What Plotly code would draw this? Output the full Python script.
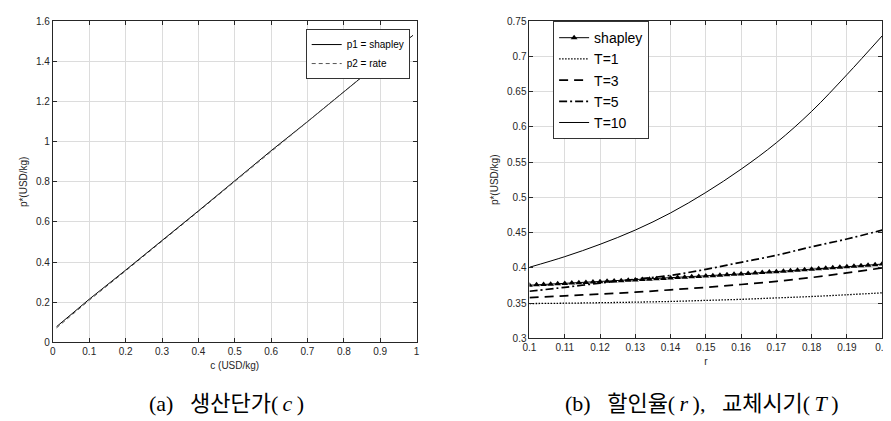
import plotly.graph_objects as go

# ---- data (a) ----
c_vals = [0.01, 0.1, 0.2, 0.3, 0.4, 0.5, 0.6, 0.7, 0.8, 0.9, 0.99]
p1_shapley = [0.078, 0.215, 0.36, 0.506, 0.655, 0.805, 0.955, 1.10, 1.25, 1.397, 1.53]
p2_rate = [0.072, 0.21, 0.356, 0.503, 0.652, 0.802, 0.952, 1.098, 1.248, 1.396, 1.53]

# ---- data (b) ----
r_vals = [0.10, 0.11, 0.12, 0.13, 0.14, 0.15, 0.16, 0.17, 0.18, 0.19, 0.20]
T1 = [0.3495, 0.3500, 0.3507, 0.3515, 0.3525, 0.3540, 0.3555, 0.3575, 0.3595, 0.3620, 0.3647]
T3 = [0.3580, 0.3605, 0.3630, 0.3656, 0.3690, 0.3725, 0.3765, 0.3810, 0.3865, 0.3930, 0.4000]
T5 = [0.3670, 0.3725, 0.3785, 0.3840, 0.3895, 0.3980, 0.4080, 0.4180, 0.4300, 0.4410, 0.4537]
T10 = [0.4010, 0.4160, 0.4335, 0.4537, 0.4780, 0.5070, 0.5400, 0.5775, 0.6220, 0.6740, 0.7290]

r_fine = [0.100, 0.102, 0.104, 0.106, 0.108, 0.110, 0.112, 0.114, 0.116, 0.118,
          0.120, 0.122, 0.124, 0.126, 0.128, 0.130, 0.132, 0.134, 0.136, 0.138,
          0.140, 0.142, 0.144, 0.146, 0.148, 0.150, 0.152, 0.154, 0.156, 0.158,
          0.160, 0.162, 0.164, 0.166, 0.168, 0.170, 0.172, 0.174, 0.176, 0.178,
          0.180, 0.182, 0.184, 0.186, 0.188, 0.190, 0.192, 0.194, 0.196, 0.198,
          0.200]
shapley_b = [0.3755, 0.3760, 0.3765, 0.3770, 0.3775, 0.3780, 0.3785, 0.3790, 0.3795, 0.3800,
             0.3805, 0.3810, 0.3815, 0.3820, 0.3825, 0.3830, 0.3835, 0.3841, 0.3846, 0.3852,
             0.3857, 0.3863, 0.3868, 0.3874, 0.3879, 0.3885, 0.3891, 0.3897, 0.3903, 0.3909,
             0.3915, 0.3921, 0.3928, 0.3934, 0.3941, 0.3947, 0.3954, 0.3960, 0.3967, 0.3973,
             0.3980, 0.3987, 0.3995, 0.4002, 0.4010, 0.4017, 0.4025, 0.4032, 0.4040, 0.4047,
             0.4055]

x_ticks_a = [0, 0.1, 0.2, 0.3, 0.4, 0.5, 0.6, 0.7, 0.8, 0.9, 1]
x_labels_a = ["0", "0.1", "0.2", "0.3", "0.4", "0.5", "0.6", "0.7", "0.8", "0.9", "1"]
y_ticks_a = [0, 0.2, 0.4, 0.6, 0.8, 1, 1.2, 1.4, 1.6]
y_labels_a = ["0", "0.2", "0.4", "0.6", "0.8", "1", "1.2", "1.4", "1.6"]
x_ticks_b = [0.1, 0.11, 0.12, 0.13, 0.14, 0.15, 0.16, 0.17, 0.18, 0.19, 0.2]
x_labels_b = ["0.1", "0.11", "0.12", "0.13", "0.14", "0.15", "0.16", "0.17", "0.18", "0.19", "0.2"]
y_ticks_b = [0.3, 0.35, 0.4, 0.45, 0.5, 0.55, 0.6, 0.65, 0.7, 0.75]
y_labels_b = ["0.3", "0.35", "0.4", "0.45", "0.5", "0.55", "0.6", "0.65", "0.7", "0.75"]

W, H = 891, 421


def fx(px):
    return min(max(px / W, 0.0), 1.0)


def fy(py):
    return min(max(1 - py / H, 0.0), 1.0)


FONT = "Liberation Sans, Arial, sans-serif"
TICKC = "#262626"

fig = go.Figure()

# (a)
fig.add_trace(go.Scatter(x=c_vals, y=p1_shapley, mode="lines", name="p1 = shapley",
                         line=dict(color="black", width=1), xaxis="x", yaxis="y",
                         legend="legend"))
fig.add_trace(go.Scatter(x=c_vals, y=p2_rate, mode="lines", name="p2 = rate",
                         line=dict(color="#555555", width=1, dash="4px,3px"), xaxis="x", yaxis="y",
                         legend="legend"))

# (b)
fig.add_trace(go.Scatter(x=r_fine, y=shapley_b, mode="lines+markers", name="shapley",
                         line=dict(color="black", width=1),
                         marker=dict(symbol="triangle-up", size=6, color="black"),
                         xaxis="x2", yaxis="y2", legend="legend2"))
fig.add_trace(go.Scatter(x=r_vals, y=T1, mode="lines", name="T=1", line_shape="spline",
                         line=dict(color="black", width=1.3, dash="1.5px,1.5px"),
                         xaxis="x2", yaxis="y2", legend="legend2"))
fig.add_trace(go.Scatter(x=r_vals, y=T3, mode="lines", name="T=3", line_shape="spline",
                         line=dict(color="black", width=1.7, dash="9px,6px"),
                         xaxis="x2", yaxis="y2", legend="legend2"))
fig.add_trace(go.Scatter(x=r_vals, y=T5, mode="lines", name="T=5", line_shape="spline",
                         line=dict(color="black", width=1.7, dash="8px,3px,2px,3px"),
                         xaxis="x2", yaxis="y2", legend="legend2"))
fig.add_trace(go.Scatter(x=r_vals, y=T10, mode="lines", name="T=10", line_shape="spline",
                         line=dict(color="black", width=1),
                         xaxis="x2", yaxis="y2", legend="legend2"))

axis_common = dict(showgrid=True, gridcolor="#dcdcdc", gridwidth=1, zeroline=False,
                   showline=True, linecolor=TICKC, linewidth=1, mirror="ticks",
                   ticks="inside", ticklen=4, tickcolor=TICKC,
                   tickfont=dict(family=FONT, size=10, color=TICKC))

fig.update_layout(
    width=W, height=H,
    margin=dict(l=0, r=0, t=0, b=0),
    paper_bgcolor="white", plot_bgcolor="white",
    font=dict(family=FONT, color=TICKC),
    xaxis=dict(domain=[fx(38.5), fx(408)], range=[0, 1], tickvals=x_ticks_a, ticktext=x_labels_a,
               anchor="y", title=dict(text="c (USD/kg)", font=dict(size=10), standoff=5),
               **axis_common),
    yaxis=dict(domain=[fy(338), fy(7.5)], range=[0, 1.6], tickvals=y_ticks_a,
               ticktext=y_labels_a, anchor="x",
               title=dict(text="p*(USD/kg)", font=dict(size=10), standoff=6), **axis_common),
    xaxis2=dict(domain=[fx(522.7), fx(881)], range=[0.1, 0.2], tickvals=x_ticks_b,
                ticktext=x_labels_b, anchor="y2",
                title=dict(text="r", font=dict(size=10), standoff=5), **axis_common),
    yaxis2=dict(domain=[fy(334), fy(7.3)], range=[0.3, 0.75], tickvals=y_ticks_b,
                ticktext=y_labels_b, anchor="x2",
                title=dict(text="p*(USD/kg)", font=dict(size=10), standoff=6), **axis_common),
    legend=dict(x=fx(401), y=fy(15.5), xanchor="right", yanchor="top",
                bgcolor="white", bordercolor="#333333", borderwidth=1,
                font=dict(family=FONT, size=10, color="black"),
                tracegroupgap=0, itemwidth=30),
    legend2=dict(x=fx(546.7), y=fy(7.3), xanchor="left", yanchor="top",
                 bgcolor="white", bordercolor="#333333", borderwidth=1,
                 font=dict(family=FONT, size=14, color="black"),
                 tracegroupgap=0, itemwidth=30),
    showlegend=True,
)

CAP = "Liberation Serif, Noto Sans CJK KR, serif"
fig.add_annotation(x=fx(215), y=fy(401), xref="paper", yref="paper", xanchor="center",
                   yanchor="middle", text="(a)&nbsp;&nbsp; 생산단가(\u2009<i>c</i>\u2009)",
                   showarrow=False, font=dict(family=CAP, size=22, color="black"))
fig.add_annotation(x=fx(698), y=fy(401), xref="paper", yref="paper", xanchor="center",
                   yanchor="middle",
                   text="(b)&nbsp;&nbsp; 할인율(\u2009<i>r</i>\u2009),&nbsp;&nbsp; 교체시기(\u2009<i>T</i>\u2009)",
                   showarrow=False, font=dict(family=CAP, size=22, color="black"))

fig.write_html("out.html")
